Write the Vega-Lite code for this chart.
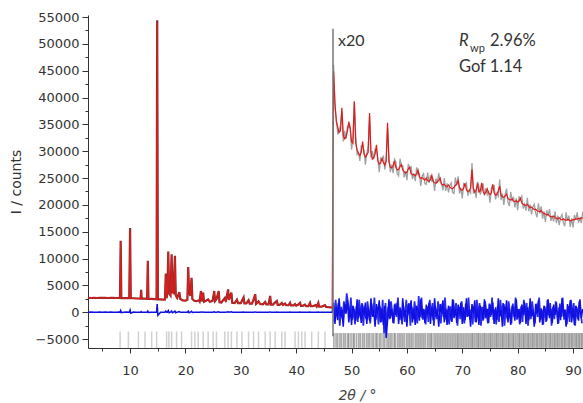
{
"$schema": "https://vega.github.io/schema/vega-lite/v6.json",
"autosize": {"type": "none"},
"padding": {"left": 88, "top": 15, "right": 0, "bottom": 55},
"width": 495,
"height": 333,
"background": "white",
"config": {"view": {"stroke": null}, "axis": {"grid": false, "domainColor": "#333", "tickColor": "#333", "labelColor": "#333", "titleColor": "#333", "labelFont": "DejaVu Sans", "labelFontSize": 13, "titleFont": "DejaVu Sans", "titleFontWeight": "normal"}},
"datasets": {
"pat": [
{"x":2.4,"calc":2650,"obs":2660,"diff":0},{"x":3.0,"calc":2650,"obs":2640,"diff":10},{"x":3.5,"calc":2655,"obs":2670,"diff":0},{"x":4.0,"calc":2650,"obs":2640,"diff":-10},{"x":4.5,"calc":2655,"obs":2665,"diff":10},{"x":5.0,"calc":2660,"obs":2650,"diff":0},{"x":5.5,"calc":2655,"obs":2670,"diff":20},{"x":6.0,"calc":2650,"obs":2640,"diff":-10},{"x":6.5,"calc":2650,"obs":2660,"diff":10},{"x":7.0,"calc":2650,"obs":2655,"diff":0},{"x":7.5,"calc":2645,"obs":2640,"diff":-10},{"x":8.0,"calc":2640,"obs":2650,"diff":20},
{"x":8.18,"calc":2640,"obs":2640,"diff":0},{"x":8.3,"calc":13100,"obs":13300,"diff":300},{"x":8.42,"calc":2640,"obs":2650,"diff":-100},{"x":8.8,"calc":2630,"obs":2620,"diff":0},{"x":9.3,"calc":2620,"obs":2630,"diff":10},{"x":9.85,"calc":2610,"obs":2610,"diff":0},{"x":10.0,"calc":15500,"obs":15700,"diff":400},{"x":10.12,"calc":2600,"obs":2600,"diff":-200},{"x":10.6,"calc":2580,"obs":2590,"diff":10},{"x":11.1,"calc":2560,"obs":2550,"diff":-10},{"x":11.6,"calc":2540,"obs":2550,"diff":0},{"x":11.9,"calc":2525,"obs":2520,"diff":0},{"x":12.0,"calc":4100,"obs":4150,"diff":100},{"x":12.1,"calc":2520,"obs":2510,"diff":0},{"x":12.6,"calc":2500,"obs":2510,"diff":0},{"x":13.08,"calc":2490,"obs":2490,"diff":0},{"x":13.2,"calc":9500,"obs":9600,"diff":200},{"x":13.32,"calc":2480,"obs":2470,"diff":-50},{"x":13.8,"calc":2460,"obs":2470,"diff":0},{"x":14.4,"calc":2440,"obs":2430,"diff":0},{"x":14.78,"calc":2420,"obs":2420,"diff":0},{"x":14.9,"calc":53900,"obs":54400,"diff":1500},{"x":15.02,"calc":2400,"obs":2390,"diff":-600},{"x":15.5,"calc":2380,"obs":2390,"diff":0},{"x":16.0,"calc":2350,"obs":2340,"diff":0},{"x":16.3,"calc":2340,"obs":2350,"diff":0},{"x":16.45,"calc":7100,"obs":7200,"diff":200},{"x":16.6,"calc":2600,"obs":2600,"diff":0},{"x":16.75,"calc":3800,"obs":3900,"diff":0},{"x":16.9,"calc":11200,"obs":11300,"diff":300},{"x":17.05,"calc":3600,"obs":3500,"diff":-100},{"x":17.3,"calc":3000,"obs":3100,"diff":0},{"x":17.5,"calc":10700,"obs":10800,"diff":200},{"x":17.65,"calc":3800,"obs":3700,"diff":-100},{"x":17.85,"calc":3500,"obs":3600,"diff":0},{"x":18.1,"calc":10400,"obs":10500,"diff":200},{"x":18.25,"calc":3200,"obs":3100,"diff":-100},{"x":18.5,"calc":2600,"obs":2650,"diff":0},{"x":18.9,"calc":3700,"obs":3750,"diff":100},{"x":19.05,"calc":2500,"obs":2500,"diff":0},{"x":19.5,"calc":2180,"obs":2190,"diff":0},{"x":20.0,"calc":2150,"obs":2140,"diff":0},{"x":20.35,"calc":2300,"obs":2320,"diff":0},{"x":20.5,"calc":8300,"obs":8400,"diff":200},{"x":20.65,"calc":3800,"obs":3700,"diff":-100},{"x":20.9,"calc":3000,"obs":3050,"diff":0},{"x":21.1,"calc":6300,"obs":6400,"diff":150},{"x":21.25,"calc":2500,"obs":2450,"diff":-50},{"x":21.6,"calc":2100,"obs":2110,"diff":0},{"x":22.0,"calc":2050,"obs":2040,"diff":0},{"x":22.4,"calc":2200,"obs":2220,"diff":0},{"x":22.55,"calc":2000,"obs":1990,"diff":0},{"x":22.8,"calc":3900,"obs":3950,"diff":50},{"x":22.95,"calc":2000,"obs":2010,"diff":0},{"x":23.2,"calc":3600,"obs":3650,"diff":50},{"x":23.35,"calc":1950,"obs":1940,"diff":0},{"x":23.7,"calc":2100,"obs":2120,"diff":0},{"x":24.1,"calc":2400,"obs":2380,"diff":0},{"x":24.4,"calc":1920,"obs":1930,"diff":0},{"x":24.9,"calc":2100,"obs":2110,"diff":0},{"x":25.2,"calc":3900,"obs":3950,"diff":80},{"x":25.35,"calc":2100,"obs":2080,"diff":0},{"x":25.6,"calc":2400,"obs":2420,"diff":0},{"x":26.0,"calc":3900,"obs":3930,"diff":60},{"x":26.15,"calc":1850,"obs":1860,"diff":0},{"x":26.5,"calc":1820,"obs":1810,"diff":0},{"x":27.1,"calc":2600,"obs":2620,"diff":0},{"x":27.3,"calc":2000,"obs":1990,"diff":0},{"x":27.7,"calc":4200,"obs":4250,"diff":80},{"x":27.85,"calc":2300,"obs":2280,"diff":0},{"x":28.3,"calc":3600,"obs":3640,"diff":60},{"x":28.45,"calc":1750,"obs":1760,"diff":0},{"x":28.9,"calc":1720,"obs":1710,"diff":0},{"x":29.3,"calc":2300,"obs":2320,"diff":0},{"x":29.5,"calc":1700,"obs":1690,"diff":0},{"x":30.0,"calc":1680,"obs":1690,"diff":0},{"x":30.5,"calc":2700,"obs":2730,"diff":40},{"x":30.65,"calc":1650,"obs":1640,"diff":0},{"x":31.0,"calc":1620,"obs":1630,"diff":0},{"x":31.4,"calc":2200,"obs":2220,"diff":0},{"x":31.6,"calc":1600,"obs":1590,"diff":0},{"x":32.0,"calc":1580,"obs":1590,"diff":0},{"x":32.3,"calc":2300,"obs":2310,"diff":0},{"x":32.6,"calc":3300,"obs":3350,"diff":50},{"x":32.75,"calc":1550,"obs":1540,"diff":0},{"x":33.2,"calc":2000,"obs":2010,"diff":0},{"x":33.5,"calc":1500,"obs":1510,"diff":0},{"x":34.0,"calc":1480,"obs":1470,"diff":0},{"x":34.4,"calc":1900,"obs":1910,"diff":0},{"x":34.6,"calc":1450,"obs":1460,"diff":0},{"x":35.0,"calc":1430,"obs":1440,"diff":0},{"x":35.3,"calc":3000,"obs":3030,"diff":50},{"x":35.45,"calc":1420,"obs":1410,"diff":0},{"x":35.8,"calc":1400,"obs":1410,"diff":0},{"x":36.2,"calc":1800,"obs":1820,"diff":0},{"x":36.5,"calc":2050,"obs":2070,"diff":30},{"x":36.65,"calc":1380,"obs":1370,"diff":0},{"x":37.0,"calc":1350,"obs":1360,"diff":0},{"x":37.4,"calc":1700,"obs":1710,"diff":0},{"x":37.6,"calc":1320,"obs":1330,"diff":0},{"x":38.0,"calc":1600,"obs":1610,"diff":0},{"x":38.2,"calc":1300,"obs":1290,"diff":0},{"x":38.6,"calc":1280,"obs":1290,"diff":0},{"x":38.9,"calc":1730,"obs":1750,"diff":20},{"x":39.05,"calc":1260,"obs":1250,"diff":0},{"x":39.5,"calc":1240,"obs":1250,"diff":0},{"x":39.8,"calc":1500,"obs":1510,"diff":0},{"x":40.0,"calc":1220,"obs":1210,"diff":0},{"x":40.4,"calc":1400,"obs":1410,"diff":0},{"x":40.7,"calc":1730,"obs":1740,"diff":20},{"x":40.85,"calc":1190,"obs":1180,"diff":0},{"x":41.2,"calc":1170,"obs":1180,"diff":0},{"x":41.6,"calc":1400,"obs":1410,"diff":0},{"x":41.8,"calc":1150,"obs":1140,"diff":0},{"x":42.2,"calc":1130,"obs":1140,"diff":0},{"x":42.5,"calc":1730,"obs":1740,"diff":20},{"x":42.65,"calc":1110,"obs":1100,"diff":0},{"x":43.0,"calc":1090,"obs":1100,"diff":0},{"x":43.5,"calc":1300,"obs":1310,"diff":0},{"x":43.7,"calc":1060,"obs":1050,"diff":0},{"x":44.0,"calc":1730,"obs":1740,"diff":20},{"x":44.15,"calc":1040,"obs":1030,"diff":0},{"x":44.6,"calc":1020,"obs":1030,"diff":0},{"x":45.2,"calc":1300,"obs":1310,"diff":0},{"x":45.4,"calc":980,"obs":990,"diff":0},{"x":45.8,"calc":950,"obs":940,"diff":0},{"x":46.2,"calc":900,"obs":910,"diff":0},{"x":46.5,"calc":830,"obs":840,"diff":0},
{"x":46.75,"calc":44900,"obs":46100,"diff":1800},{"x":47.0,"calc":39000,"obs":38100,"diff":-2200},{"x":47.25,"calc":35500,"obs":36100,"diff":900},{"x":47.5,"calc":34500,"obs":33100,"diff":-1500},{"x":47.75,"calc":33500,"obs":33800,"diff":2600},{"x":48.0,"calc":33800,"obs":34800,"diff":-800},{"x":48.25,"calc":38100,"obs":37400,"diff":400},{"x":48.5,"calc":33000,"obs":31800,"diff":-2700},{"x":48.75,"calc":32300,"obs":33800,"diff":1500},{"x":49.0,"calc":32600,"obs":32300,"diff":-300},{"x":49.25,"calc":33800,"obs":34600,"diff":2200},{"x":49.5,"calc":35500,"obs":34400,"diff":-1900},{"x":49.75,"calc":34200,"obs":34600,"diff":700},{"x":50.0,"calc":31800,"obs":30300,"diff":-2400},{"x":50.25,"calc":31500,"obs":32400,"diff":1200},{"x":50.5,"calc":39300,"obs":39100,"diff":300},{"x":50.75,"calc":31500,"obs":32800,"diff":-1600},{"x":51.0,"calc":30200,"obs":29400,"diff":2400},{"x":51.25,"calc":29600,"obs":29700,"diff":-1100},{"x":51.5,"calc":29200,"obs":28200,"diff":600},{"x":51.75,"calc":29800,"obs":31000,"diff":-2000},{"x":52.0,"calc":31800,"obs":30900,"diff":1400},{"x":52.25,"calc":29500,"obs":30100,"diff":-500},{"x":52.5,"calc":28900,"obs":27500,"diff":1800},{"x":52.75,"calc":29300,"obs":29600,"diff":-2200},{"x":53.0,"calc":29800,"obs":30800,"diff":900},{"x":53.25,"calc":37100,"obs":36400,"diff":-1500},{"x":53.5,"calc":30000,"obs":28800,"diff":2600},{"x":53.75,"calc":28500,"obs":30000,"diff":-800},{"x":54.0,"calc":28800,"obs":28500,"diff":400},{"x":54.25,"calc":29500,"obs":30300,"diff":-2700},{"x":54.5,"calc":31200,"obs":30100,"diff":1500},{"x":54.75,"calc":28200,"obs":28600,"diff":-300},{"x":55.0,"calc":27600,"obs":26100,"diff":2200},{"x":55.25,"calc":27800,"obs":28700,"diff":-1900},{"x":55.5,"calc":28600,"obs":28400,"diff":700},{"x":55.75,"calc":27900,"obs":29200,"diff":-2400},{"x":56.0,"calc":27400,"obs":26600,"diff":1200},{"x":56.25,"calc":28200,"obs":28300,"diff":-4800},{"x":56.5,"calc":35300,"obs":34300,"diff":-1600},{"x":56.75,"calc":28000,"obs":29200,"diff":2400},{"x":57.0,"calc":27000,"obs":26100,"diff":-1100},{"x":57.25,"calc":26900,"obs":27500,"diff":600},{"x":57.5,"calc":27300,"obs":25900,"diff":-2000},{"x":57.75,"calc":28200,"obs":28500,"diff":1400},{"x":58.0,"calc":27000,"obs":28000,"diff":-500},{"x":58.25,"calc":26500,"obs":25800,"diff":1800},{"x":58.5,"calc":26600,"obs":25400,"diff":-2200},{"x":58.75,"calc":27100,"obs":28600,"diff":900},{"x":59.0,"calc":27500,"obs":27200,"diff":-1500},{"x":59.25,"calc":26500,"obs":27300,"diff":2600},{"x":59.5,"calc":26200,"obs":25100,"diff":-800},{"x":59.75,"calc":25900,"obs":26300,"diff":400},{"x":60.0,"calc":26100,"obs":24600,"diff":-2700},{"x":60.25,"calc":26700,"obs":27600,"diff":1500},{"x":60.5,"calc":27000,"obs":26800,"diff":-300},{"x":60.75,"calc":25800,"obs":27100,"diff":2200},{"x":61.0,"calc":25600,"obs":24800,"diff":-1900},{"x":61.25,"calc":25700,"obs":25800,"diff":700},{"x":61.5,"calc":25400,"obs":24400,"diff":-2400},{"x":61.75,"calc":25800,"obs":27000,"diff":1200},{"x":62.0,"calc":26500,"obs":25600,"diff":300},{"x":62.25,"calc":25200,"obs":25800,"diff":-1600},{"x":62.5,"calc":24900,"obs":23500,"diff":2400},{"x":62.75,"calc":25100,"obs":25400,"diff":-1100},{"x":63.0,"calc":24800,"obs":25800,"diff":600},{"x":63.25,"calc":24600,"obs":23900,"diff":-2000},{"x":63.5,"calc":25000,"obs":23800,"diff":1400},{"x":63.75,"calc":24500,"obs":26000,"diff":-500},{"x":64.0,"calc":24400,"obs":24100,"diff":1800},{"x":64.25,"calc":24700,"obs":25500,"diff":-2200},{"x":64.5,"calc":25500,"obs":24400,"diff":900},{"x":64.75,"calc":24300,"obs":24700,"diff":-1500},{"x":65.0,"calc":24100,"obs":22600,"diff":2600},{"x":65.25,"calc":24000,"obs":24900,"diff":-800},{"x":65.5,"calc":24300,"obs":24100,"diff":400},{"x":65.75,"calc":24600,"obs":25900,"diff":-2700},{"x":66.0,"calc":25000,"obs":24200,"diff":1500},{"x":66.25,"calc":23900,"obs":24000,"diff":-300},{"x":66.5,"calc":23700,"obs":22700,"diff":2200},{"x":66.75,"calc":23800,"obs":25000,"diff":-1900},{"x":67.0,"calc":23500,"obs":22600,"diff":700},{"x":67.25,"calc":23400,"obs":24000,"diff":-2400},{"x":67.5,"calc":23700,"obs":22300,"diff":1200},{"x":67.75,"calc":23300,"obs":23600,"diff":300},{"x":68.0,"calc":23100,"obs":24100,"diff":-1600},{"x":68.25,"calc":23000,"obs":22300,"diff":2400},{"x":68.5,"calc":23300,"obs":22100,"diff":-1100},{"x":68.75,"calc":23600,"obs":25100,"diff":600},{"x":69.0,"calc":23900,"obs":23600,"diff":-2000},{"x":69.25,"calc":24500,"obs":25300,"diff":1400},{"x":69.5,"calc":23200,"obs":22100,"diff":-500},{"x":69.75,"calc":22800,"obs":23200,"diff":1800},{"x":70.0,"calc":22700,"obs":21200,"diff":-2200},{"x":70.25,"calc":23100,"obs":24000,"diff":900},{"x":70.5,"calc":24000,"obs":23800,"diff":-1500},{"x":70.75,"calc":22800,"obs":24100,"diff":2600},{"x":71.0,"calc":22500,"obs":21700,"diff":-800},{"x":71.25,"calc":22600,"obs":22700,"diff":400},{"x":71.5,"calc":23200,"obs":22200,"diff":-2700},{"x":71.75,"calc":26600,"obs":27800,"diff":1500},{"x":72.0,"calc":23000,"obs":22100,"diff":-300},{"x":72.25,"calc":22300,"obs":22900,"diff":2200},{"x":72.5,"calc":22700,"obs":21300,"diff":-1900},{"x":72.75,"calc":24000,"obs":24300,"diff":700},{"x":73.0,"calc":22400,"obs":23400,"diff":-2400},{"x":73.25,"calc":22600,"obs":21900,"diff":1200},{"x":73.5,"calc":24100,"obs":22900,"diff":300},{"x":73.75,"calc":22500,"obs":24000,"diff":-1600},{"x":74.0,"calc":22000,"obs":21700,"diff":2400},{"x":74.25,"calc":22300,"obs":23100,"diff":-1100},{"x":74.5,"calc":23000,"obs":21900,"diff":600},{"x":74.75,"calc":22200,"obs":22600,"diff":-2000},{"x":75.0,"calc":21900,"obs":20400,"diff":1400},{"x":75.25,"calc":22200,"obs":23100,"diff":-500},{"x":75.5,"calc":23800,"obs":23600,"diff":1800},{"x":75.75,"calc":22300,"obs":23600,"diff":-2200},{"x":76.0,"calc":21800,"obs":21000,"diff":900},{"x":76.25,"calc":22000,"obs":22100,"diff":-1500},{"x":76.5,"calc":22600,"obs":21600,"diff":2600},{"x":76.75,"calc":23500,"obs":24700,"diff":-800},{"x":77.0,"calc":21800,"obs":20900,"diff":400},{"x":77.25,"calc":21500,"obs":22100,"diff":-2700},{"x":77.5,"calc":21400,"obs":20000,"diff":1500},{"x":77.75,"calc":21700,"obs":22000,"diff":-300},{"x":78.0,"calc":22000,"obs":23000,"diff":2200},{"x":78.25,"calc":21200,"obs":20500,"diff":-1900},{"x":78.5,"calc":21000,"obs":19800,"diff":700},{"x":78.75,"calc":20900,"obs":22400,"diff":-2400},{"x":79.0,"calc":21100,"obs":20800,"diff":1200},{"x":79.25,"calc":20700,"obs":21500,"diff":300},{"x":79.5,"calc":20600,"obs":19500,"diff":-1600},{"x":79.75,"calc":20800,"obs":21200,"diff":2400},{"x":80.0,"calc":20500,"obs":19000,"diff":-1100},{"x":80.25,"calc":20700,"obs":21600,"diff":600},{"x":80.5,"calc":21200,"obs":21000,"diff":-2000},{"x":80.75,"calc":20300,"obs":21600,"diff":1400},{"x":81.0,"calc":20100,"obs":19300,"diff":-500},{"x":81.25,"calc":20000,"obs":20100,"diff":1800},{"x":81.5,"calc":19900,"obs":18900,"diff":-2200},{"x":81.75,"calc":20100,"obs":21300,"diff":900},{"x":82.0,"calc":19700,"obs":18800,"diff":-1500},{"x":82.25,"calc":19500,"obs":20100,"diff":2600},{"x":82.5,"calc":19600,"obs":18200,"diff":-800},{"x":82.75,"calc":19300,"obs":19600,"diff":400},{"x":83.0,"calc":19100,"obs":20100,"diff":-2700},{"x":83.25,"calc":19200,"obs":18500,"diff":1500},{"x":83.5,"calc":18900,"obs":17700,"diff":-300},{"x":83.75,"calc":18800,"obs":20300,"diff":2200},{"x":84.0,"calc":18700,"obs":18400,"diff":-1900},{"x":84.25,"calc":18900,"obs":19700,"diff":700},{"x":84.5,"calc":18500,"obs":17400,"diff":-2400},{"x":84.75,"calc":18400,"obs":18800,"diff":1200},{"x":85.0,"calc":18300,"obs":16800,"diff":300},{"x":85.25,"calc":18100,"obs":19000,"diff":-1600},{"x":85.5,"calc":18200,"obs":18000,"diff":2400},{"x":85.75,"calc":17900,"obs":19200,"diff":-1100},{"x":86.0,"calc":17800,"obs":17000,"diff":600},{"x":86.25,"calc":17700,"obs":17800,"diff":-2000},{"x":86.5,"calc":17900,"obs":16900,"diff":1400},{"x":86.75,"calc":17600,"obs":18800,"diff":-500},{"x":87.0,"calc":17500,"obs":16600,"diff":1800},{"x":87.25,"calc":17400,"obs":18000,"diff":-2200},{"x":87.5,"calc":17600,"obs":16200,"diff":900},{"x":87.75,"calc":17300,"obs":17600,"diff":-1500},{"x":88.0,"calc":17200,"obs":18200,"diff":2600},{"x":88.25,"calc":17400,"obs":16700,"diff":-800},{"x":88.5,"calc":17200,"obs":16000,"diff":400},{"x":88.75,"calc":17100,"obs":18600,"diff":-2700},{"x":89.0,"calc":17300,"obs":17000,"diff":1500},{"x":89.25,"calc":17200,"obs":18000,"diff":-300},{"x":89.5,"calc":17000,"obs":15900,"diff":2200},{"x":89.75,"calc":17100,"obs":17500,"diff":-1900},{"x":90.0,"calc":17300,"obs":15800,"diff":700},{"x":90.25,"calc":17200,"obs":18100,"diff":-2400},{"x":90.5,"calc":17400,"obs":17200,"diff":1200},{"x":90.75,"calc":17300,"obs":18600,"diff":300},{"x":91.0,"calc":17500,"obs":16700,"diff":-1600},{"x":91.25,"calc":17400,"obs":17500,"diff":2400},{"x":91.5,"calc":17600,"obs":16600,"diff":-1100},{"x":91.75,"calc":17500,"obs":18700,"diff":600}
],
"dif2": [
{"x":46.875,"d":-1800},{"x":47.125,"d":2300},{"x":47.375,"d":-600},{"x":47.625,"d":1700},{"x":47.875,"d":-2500},{"x":48.125,"d":1000},{"x":48.375,"d":-1300},{"x":48.625,"d":2000},{"x":48.875,"d":-200},{"x":49.125,"d":3500},{"x":49.375,"d":1600},{"x":49.625,"d":-900},{"x":49.875,"d":2700},{"x":50.125,"d":-1400},{"x":50.375,"d":500},{"x":50.625,"d":-2300},{"x":50.875,"d":1100},
{"x":51.125,"d":-1800},{"x":51.375,"d":2300},{"x":51.625,"d":-600},{"x":51.875,"d":1700},{"x":52.125,"d":-2500},{"x":52.375,"d":1000},{"x":52.625,"d":-1300},{"x":52.875,"d":2000},{"x":53.125,"d":-200},{"x":53.375,"d":-2100},{"x":53.625,"d":1600},{"x":53.875,"d":-900},{"x":54.125,"d":2700},{"x":54.375,"d":-1400},{"x":54.625,"d":500},{"x":54.875,"d":-2300},{"x":55.125,"d":1100},
{"x":55.375,"d":-1800},{"x":55.625,"d":2300},{"x":55.875,"d":-3900},{"x":56.125,"d":1700},{"x":56.375,"d":-2500},{"x":56.625,"d":1000},{"x":56.875,"d":-1300},{"x":57.125,"d":2000},{"x":57.375,"d":-200},{"x":57.625,"d":-2100},{"x":57.875,"d":1600},{"x":58.125,"d":-900},{"x":58.375,"d":2700},{"x":58.625,"d":-1400},{"x":58.875,"d":500},{"x":59.125,"d":-2300},{"x":59.375,"d":1100},
{"x":59.625,"d":-1800},{"x":59.875,"d":2300},{"x":60.125,"d":-600},{"x":60.375,"d":1700},{"x":60.625,"d":-2500},{"x":60.875,"d":1000},{"x":61.125,"d":-1300},{"x":61.375,"d":2000},{"x":61.625,"d":-200},{"x":61.875,"d":-2100},{"x":62.125,"d":3000},{"x":62.375,"d":-900},{"x":62.625,"d":2700},{"x":62.875,"d":-1400},{"x":63.125,"d":500},{"x":63.375,"d":-2300},{"x":63.625,"d":1100},
{"x":63.875,"d":-1800},{"x":64.125,"d":2300},{"x":64.375,"d":-600},{"x":64.625,"d":1700},{"x":64.875,"d":-2500},{"x":65.125,"d":1000},{"x":65.375,"d":-1300},{"x":65.625,"d":2000},{"x":65.875,"d":-200},{"x":66.125,"d":-2100},{"x":66.375,"d":1600},{"x":66.625,"d":-900},{"x":66.875,"d":2700},{"x":67.125,"d":-1400},{"x":67.375,"d":500},{"x":67.625,"d":-2300},{"x":67.875,"d":1100},
{"x":68.125,"d":-1800},{"x":68.375,"d":2300},{"x":68.625,"d":-600},{"x":68.875,"d":1700},{"x":69.125,"d":-2500},{"x":69.375,"d":1000},{"x":69.625,"d":-1300},{"x":69.875,"d":2000},{"x":70.125,"d":-200},{"x":70.375,"d":-2100},{"x":70.625,"d":1600},{"x":70.875,"d":-900},{"x":71.125,"d":2700},{"x":71.375,"d":-1400},{"x":71.625,"d":500},{"x":71.875,"d":-2300},{"x":72.125,"d":1100},
{"x":72.375,"d":-1800},{"x":72.625,"d":2300},{"x":72.875,"d":-600},{"x":73.125,"d":1700},{"x":73.375,"d":-2500},{"x":73.625,"d":1000},{"x":73.875,"d":-1300},{"x":74.125,"d":2000},{"x":74.375,"d":-200},{"x":74.625,"d":-2100},{"x":74.875,"d":1600},{"x":75.125,"d":-900},{"x":75.375,"d":2700},{"x":75.625,"d":-1400},{"x":75.875,"d":500},{"x":76.125,"d":-2300},{"x":76.375,"d":1100},
{"x":76.625,"d":-1800},{"x":76.875,"d":2300},{"x":77.125,"d":-600},{"x":77.375,"d":1700},{"x":77.625,"d":-2500},{"x":77.875,"d":1000},{"x":78.125,"d":-1300},{"x":78.375,"d":2000},{"x":78.625,"d":-200},{"x":78.875,"d":-2100},{"x":79.125,"d":1600},{"x":79.375,"d":-900},{"x":79.625,"d":2700},{"x":79.875,"d":-1400},{"x":80.125,"d":500},{"x":80.375,"d":-2300},{"x":80.625,"d":1100},
{"x":80.875,"d":-1800},{"x":81.125,"d":2300},{"x":81.375,"d":-600},{"x":81.625,"d":1700},{"x":81.875,"d":-2500},{"x":82.125,"d":1000},{"x":82.375,"d":-1300},{"x":82.625,"d":2000},{"x":82.875,"d":-200},{"x":83.125,"d":-2100},{"x":83.375,"d":1600},{"x":83.625,"d":-900},{"x":83.875,"d":2700},{"x":84.125,"d":-1400},{"x":84.375,"d":500},{"x":84.625,"d":-2300},{"x":84.875,"d":1100},
{"x":85.125,"d":-1800},{"x":85.375,"d":2300},{"x":85.625,"d":-600},{"x":85.875,"d":1700},{"x":86.125,"d":-2500},{"x":86.375,"d":1000},{"x":86.625,"d":-1300},{"x":86.875,"d":2000},{"x":87.125,"d":-200},{"x":87.375,"d":-2100},{"x":87.625,"d":1600},{"x":87.875,"d":-900},{"x":88.125,"d":2700},{"x":88.375,"d":-1400},{"x":88.625,"d":500},{"x":88.875,"d":-2300},{"x":89.125,"d":1100},
{"x":89.375,"d":-1800},{"x":89.625,"d":2300},{"x":89.875,"d":-600},{"x":90.125,"d":1700},{"x":90.375,"d":-2500},{"x":90.625,"d":1000},{"x":90.875,"d":-1300},{"x":91.125,"d":2000},{"x":91.375,"d":-200},{"x":91.625,"d":-2100}
],
"refl": [
{"x":8.2},{"x":9.7},{"x":11.5},{"x":12.7},{"x":13.9},{"x":14.8},{"x":16.6},{"x":17.0},{"x":17.5},{"x":18.4},{"x":19.3},{"x":21.1},{"x":21.7},{"x":22.3},{"x":23.2},{"x":24.1},{"x":25.0},{"x":25.6},{"x":27.1},{"x":27.7},{"x":28.3},{"x":29.3},{"x":30.2},{"x":31.4},{"x":32.3},{"x":33.2},{"x":34.4},{"x":35.3},{"x":36.2},{"x":37.4},{"x":38.0},{"x":39.8},{"x":40.4},{"x":41.0},{"x":41.6},{"x":42.8},{"x":44.0},{"x":45.2},
{"x":46.8},{"x":47.2},{"x":47.5},{"x":47.9},{"x":48.2},{"x":48.6},{"x":48.9},{"x":49.3},{"x":49.5},{"x":49.9},{"x":50.3},{"x":50.5},{"x":50.9},{"x":51.3},{"x":51.6},{"x":52.0},{"x":52.3},{"x":52.7},{"x":53.0},{"x":53.3},{"x":53.7},{"x":54.0},{"x":54.4},{"x":54.6},{"x":55.0},{"x":55.3},{"x":55.7},{"x":56.0},{"x":56.4},{"x":56.7},{"x":57.0},{"x":57.3},{"x":57.7},{"x":57.9},{"x":58.3},{"x":58.6},{"x":58.9},{"x":59.2},{"x":59.5},{"x":59.9},{"x":60.2},{"x":60.5},{"x":60.8},{"x":61.1},{"x":61.5},{"x":61.8},{"x":62.1},{"x":62.4},{"x":62.7},{"x":63.0},{"x":63.3},{"x":63.7},{"x":64.0},{"x":64.3},{"x":64.5},{"x":64.9},{"x":65.2},{"x":65.5},{"x":65.8},{"x":66.1},{"x":66.4},{"x":66.7},{"x":67.0},{"x":67.3},{"x":67.6},{"x":67.9},{"x":68.2},{"x":68.5},{"x":68.8},{"x":69.1},{"x":69.3},{"x":69.6},{"x":69.9},{"x":70.2},{"x":70.5},{"x":70.8},{"x":71.1},{"x":71.4},{"x":71.7},{"x":71.9},{"x":72.2},{"x":72.5},{"x":72.8},{"x":73.0},{"x":73.3},{"x":73.6},{"x":73.9},{"x":74.1},{"x":74.4},{"x":74.7},{"x":75.0},{"x":75.2},{"x":75.5},{"x":75.8},{"x":76.1},{"x":76.3},{"x":76.6},{"x":76.9},{"x":77.2},{"x":77.4},{"x":77.7},{"x":78.0},{"x":78.3},{"x":78.5},{"x":78.8},{"x":79.1},{"x":79.3},{"x":79.6},{"x":79.9},{"x":80.2},{"x":80.4},{"x":80.7},{"x":81.0},{"x":81.2},{"x":81.5},{"x":81.8},{"x":82.0},{"x":82.3},{"x":82.6},{"x":82.8},{"x":83.1},{"x":83.4},{"x":83.6},{"x":83.9},{"x":84.2},{"x":84.4},{"x":84.7},{"x":85.0},{"x":85.2},{"x":85.5},{"x":85.8},{"x":86.0},{"x":86.3},{"x":86.6},{"x":86.8},{"x":87.1},{"x":87.3},{"x":87.6},{"x":87.9},{"x":88.1},{"x":88.4},{"x":88.6},{"x":88.9},{"x":89.2},{"x":89.4},{"x":89.7},{"x":89.9},{"x":90.2},{"x":90.5},{"x":90.7},{"x":91.0},{"x":91.2},{"x":91.5},{"x":91.7}
]
},
"resolve": {"axis": {"x": "independent", "y": "independent"}},
"layer": [
{"data": {"name": "refl"}, "transform": [{"filter": "datum.x < 46.5"}], "mark": {"type": "rule", "color": "#999", "strokeWidth": 1.5, "opacity": 0.45},
 "encoding": {
  "x": {"field": "x", "type": "quantitative", "scale": {"domain": [2.4, 91.8], "nice": false, "zero": false},
   "axis": {"orient": "bottom", "values": [10,20,30,40,50,60,70,80,90], "tickSize": 5, "labelPadding": 11, "title": "2θ / °", "titleFontStyle": "italic", "titleFontSize": 14, "titlePadding": 11, "titleX": 269, "titleColor": "#444"}},
  "y": {"datum": -3600, "type": "quantitative", "scale": {"domain": [-6677, 55373], "nice": false, "zero": false},
   "axis": {"orient": "left", "values": [-5000,0,5000,10000,15000,20000,25000,30000,35000,40000,45000,50000,55000], "format": "d", "tickSize": 6, "labelPadding": 3, "title": "I / counts", "titleFontSize": 14, "titlePadding": 12}},
  "y2": {"datum": -6650}
 }},
{"data": {"name": "refl"}, "transform": [{"filter": "datum.x >= 46.5"}], "mark": {"type": "rule", "color": "#666", "strokeWidth": 1.6, "opacity": 0.55},
 "encoding": {
  "x": {"field": "x", "type": "quantitative", "axis": {"orient": "bottom", "values": [5,15,25,35,45,55,65,75,85], "tickSize": 3, "labels": false, "domain": false, "title": null}},
  "y": {"datum": -3900, "type": "quantitative", "axis": {"orient": "left", "values": [-2500,2500,7500,12500,17500,22500,27500,32500,37500,42500,47500,52500], "tickSize": 3, "labels": false, "domain": false, "title": null}},
  "y2": {"datum": -6650}
 }},
{"data": {"name": "dif2"}, "mark": {"type": "line", "color": "#2a2af5", "strokeWidth": 1.7},
 "encoding": {
  "x": {"field": "x", "type": "quantitative", "axis": null},
  "y": {"field": "d", "type": "quantitative", "axis": null}
 }},
{"data": {"name": "pat"}, "mark": {"type": "line", "color": "#1010e0", "strokeWidth": 1.5},
 "encoding": {
  "x": {"field": "x", "type": "quantitative", "axis": null},
  "y": {"field": "diff", "type": "quantitative", "axis": null}
 }},
{"data": {"name": "pat"}, "transform": [{"filter": "datum.x <= 46.5"}], "mark": {"type": "line", "color": "#6e1a1a", "strokeWidth": 2.2, "opacity": 0.9},
 "encoding": {
  "x": {"field": "x", "type": "quantitative", "axis": null},
  "y": {"field": "obs", "type": "quantitative", "axis": null}
 }},
{"data": {"name": "pat"}, "transform": [{"filter": "datum.x >= 46.7"}], "mark": {"type": "line", "color": "#8a8a8a", "strokeWidth": 1.3, "opacity": 0.8},
 "encoding": {
  "x": {"field": "x", "type": "quantitative", "axis": null},
  "y": {"field": "obs", "type": "quantitative", "axis": null}
 }},
{"data": {"name": "pat"}, "mark": {"type": "line", "color": "#dd1c1c", "strokeWidth": 1.2},
 "encoding": {
  "x": {"field": "x", "type": "quantitative", "axis": null},
  "y": {"field": "calc", "type": "quantitative", "axis": null}
 }},
{"data": {"values": [{}]}, "mark": {"type": "rule", "color": "#777", "strokeWidth": 1.5},
 "encoding": {
  "x": {"datum": 46.65, "type": "quantitative", "axis": null},
  "y": {"datum": -4500, "type": "quantitative", "axis": null},
  "y2": {"datum": 52800}
 }},
{"data": {"values": [{}]}, "mark": {"type": "text", "font": "Lato", "fontSize": 16, "color": "#333", "align": "left", "baseline": "middle"},
 "encoding": {"x": {"datum": 47.55, "type": "quantitative", "axis": null}, "y": {"datum": 50490, "type": "quantitative", "axis": null}, "text": {"value": "x20"}}},
{"data": {"values": [{}]}, "mark": {"type": "text", "font": "Lato", "fontSize": 16.5, "fontStyle": "italic", "color": "#333", "align": "left", "baseline": "middle"},
 "encoding": {"x": {"datum": 69.4, "type": "quantitative", "axis": null}, "y": {"datum": 50490, "type": "quantitative", "axis": null}, "text": {"value": "R"}}},
{"data": {"values": [{}]}, "mark": {"type": "text", "font": "Lato", "fontSize": 11, "color": "#333", "align": "left", "baseline": "middle"},
 "encoding": {"x": {"datum": 71.4, "type": "quantitative", "axis": null}, "y": {"datum": 49100, "type": "quantitative", "axis": null}, "text": {"value": "wp"}}},
{"data": {"values": [{}]}, "mark": {"type": "text", "font": "Lato", "fontSize": 16.5, "color": "#333", "align": "left", "baseline": "middle"},
 "encoding": {"x": {"datum": 75.0, "type": "quantitative", "axis": null}, "y": {"datum": 50490, "type": "quantitative", "axis": null}, "text": {"value": "2.96%"}}},
{"data": {"values": [{}]}, "mark": {"type": "text", "font": "Lato", "fontSize": 16.5, "color": "#333", "align": "left", "baseline": "middle"},
 "encoding": {"x": {"datum": 69.4, "type": "quantitative", "axis": null}, "y": {"datum": 45650, "type": "quantitative", "axis": null}, "text": {"value": "Gof 1.14"}}}
]
}
